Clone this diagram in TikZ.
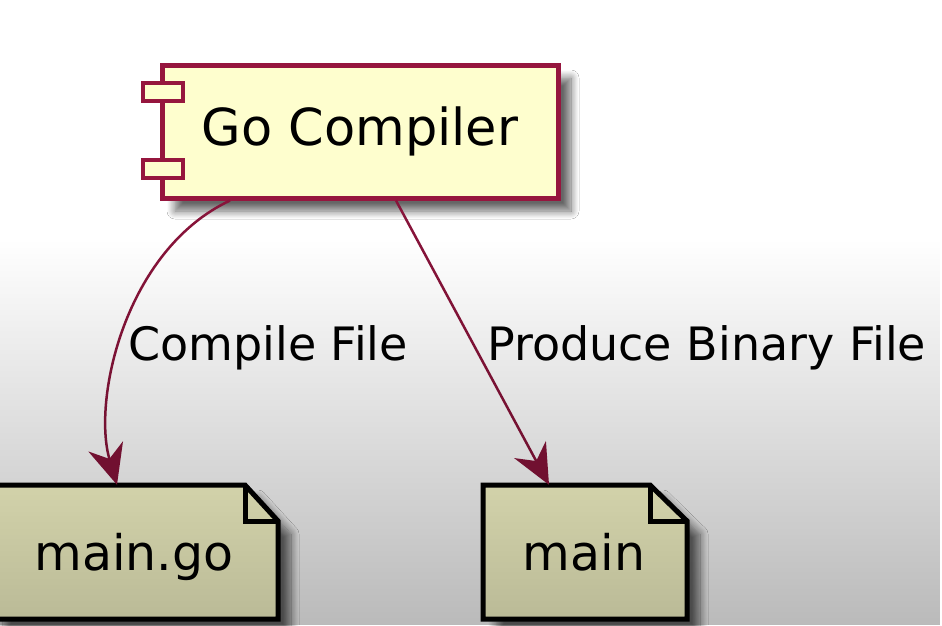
\documentclass[tikz,border=0pt]{standalone}
\usepackage{fontspec}
\setmainfont{DejaVu Sans}
\usetikzlibrary{arrows.meta,fadings,shadows.blur}
\definecolor{compfill}{HTML}{FEFECE}
\definecolor{compborder}{RGB}{150,22,62}
\definecolor{arrowcol}{RGB}{135,20,58}
\tikzfading[name=fadedown, top color=transparent!100, bottom color=transparent!0]
\begin{document}
\begin{tikzpicture}[x=1pt,y=-1pt,
  comp/.style={draw=compborder, line width=5pt, fill=compfill,
    minimum width=396pt, minimum height=133pt, inner sep=0pt,
    font=\fontsize{51}{60}\selectfont,
    blur shadow={shadow xshift=13pt, shadow yshift=-13pt, shadow blur radius=8pt, shadow blur steps=10, shadow opacity=60}},
  port/.style={draw=compborder, line width=4pt, fill=compfill},
  noteshape/.style={draw=black, line width=5pt, fill=compfill, line join=miter,
    blur shadow={shadow xshift=13pt, shadow yshift=-13pt, shadow blur radius=8pt, shadow blur steps=10, shadow opacity=60}},
  foldline/.style={draw=black, line width=5pt},
  notetext/.style={inner sep=0pt, text height=46pt, text depth=10pt,
    font=\fontsize{49}{58}\selectfont},
  lbl/.style={inner sep=0pt, anchor=base west, font=\fontsize{46}{55}\selectfont},
  conn/.style={draw=arrowcol, line width=2.5pt,
    -{Stealth[length=40pt,width=36pt,inset=13pt]}}
]
\useasboundingbox (0,0) rectangle (942,625);
\fill[white] (0,0) rectangle (942,625);

% component
\node[comp] (gc) at (360,131.5) {Go Compiler};
\draw[port] (143,83) rectangle (183,101);
\draw[port] (143,160) rectangle (183,178);

% note main.go
\path[noteshape] (-10,485) -- (245,485) -- (278,521) -- (278,619) -- (-10,619) -- cycle;
\draw[foldline] (245,485) -- (245,521) -- (278,521);
\node[notetext, minimum width=288pt, minimum height=134pt] (mg) at (134,552) {main.go};

% note main
\path[noteshape] (483,485) -- (650,485) -- (687,521) -- (687,619) -- (483,619) -- cycle;
\draw[foldline] (650,485) -- (650,521) -- (687,521);
\node[notetext, minimum width=204pt, minimum height=134pt] (mn) at (584,552) {main};

% connectors
\draw[conn] ([xshift=-130pt]gc.south) .. controls (125,250) and (92,400) .. ([xshift=-17pt]mg.north);
\draw[conn] ([xshift=36pt]gc.south) -- ([xshift=-35pt]mn.north);

% labels
\node[lbl] (l1) at (128,360) {Compile File};
\node[lbl] (l2) at (487,360) {Produce Binary File};

% darkening overlay
\fill[black, fill opacity=0.27, path fading=fadedown] (0,240) rectangle (942,625);
\end{tikzpicture}
\end{document}
